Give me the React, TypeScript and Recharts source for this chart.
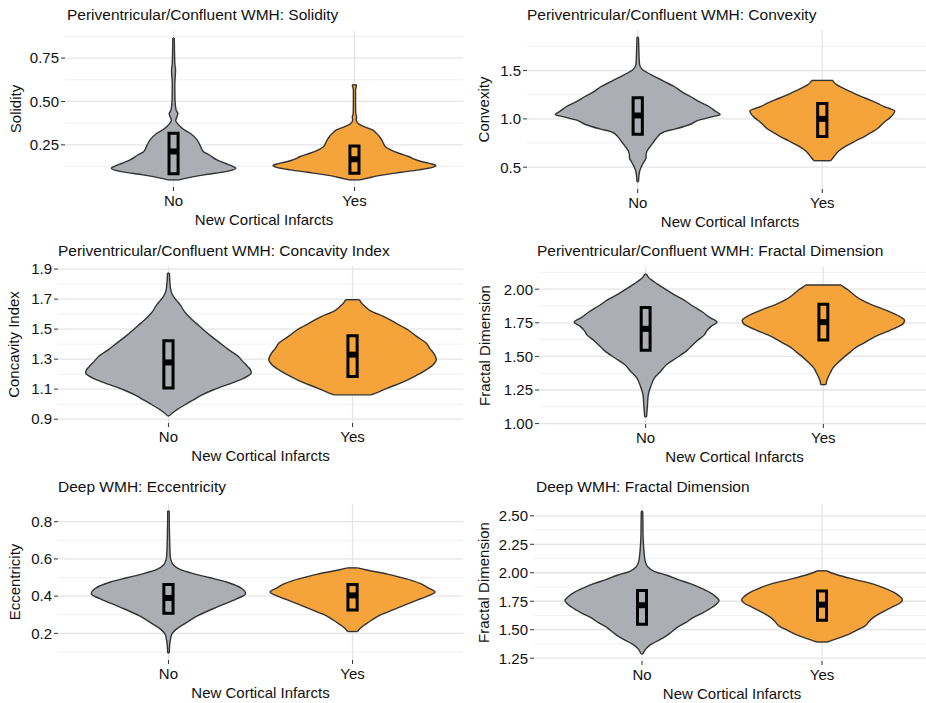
import { Area, CartesianGrid, ComposedChart, ReferenceArea, ReferenceLine, XAxis, YAxis } from 'recharts'

const GROUPS = ['No', 'Yes']
const X_TITLE = 'New Cortical Infarcts'

const COLORS = {
  no: '#abaeb3',
  yes: '#f4a43b',
  outline: '#333333',
  box: '#000000',
  gridMajor: '#e4e4e4',
  gridMinor: '#efefef',
  text: '#111111',
}

// violin outlines: [value, half width], bottom to top
const solidityNo = [
  [0.048, 0.03], [0.06, 0.08], [0.077, 0.17], [0.096, 0.29], [0.115, 0.344], [0.125, 0.33],
  [0.144, 0.285], [0.163, 0.24], [0.19, 0.2], [0.21, 0.166], [0.24, 0.15], [0.279, 0.13],
  [0.317, 0.092], [0.34, 0.055], [0.356, 0.037], [0.375, 0.02], [0.39, 0.012], [0.41, 0.018],
  [0.43, 0.024], [0.45, 0.014], [0.51, 0.008], [0.6, 0.007], [0.68, 0.011], [0.72, 0.007],
  [0.8, 0.005], [0.865, 0.004],
]
const solidityYes = [
  [0.048, 0.03], [0.065, 0.1], [0.077, 0.16], [0.092, 0.26], [0.106, 0.355], [0.12, 0.43],
  [0.131, 0.45], [0.142, 0.42], [0.154, 0.37], [0.168, 0.33], [0.183, 0.3], [0.2, 0.25],
  [0.221, 0.2], [0.24, 0.17], [0.26, 0.16], [0.28, 0.15], [0.298, 0.138], [0.318, 0.12],
  [0.337, 0.097], [0.352, 0.06], [0.365, 0.032], [0.38, 0.015], [0.395, 0.01], [0.41, 0.012],
  [0.43, 0.007], [0.5, 0.006], [0.567, 0.006], [0.585, 0.01], [0.596, 0.012],
]
const convexityNo = [
  [0.349, 0.004], [0.4, 0.006], [0.454, 0.01], [0.49, 0.016], [0.525, 0.025], [0.56, 0.035],
  [0.595, 0.045], [0.62, 0.045], [0.665, 0.05], [0.72, 0.07], [0.771, 0.09], [0.82, 0.11],
  [0.859, 0.135], [0.87, 0.15], [0.894, 0.2], [0.947, 0.29], [0.982, 0.324], [1.02, 0.4],
  [1.046, 0.447], [1.08, 0.42], [1.123, 0.39], [1.18, 0.33], [1.229, 0.288], [1.28, 0.24],
  [1.335, 0.198], [1.39, 0.14], [1.44, 0.09], [1.48, 0.05], [1.51, 0.025], [1.563, 0.01],
  [1.65, 0.007], [1.72, 0.006], [1.845, 0.004],
]
const convexityYes = [
  [0.567, 0.045], [0.59, 0.055], [0.613, 0.065], [0.65, 0.08], [0.683, 0.1], [0.73, 0.14],
  [0.771, 0.18], [0.82, 0.23], [0.859, 0.265], [0.9, 0.3], [0.947, 0.325], [0.98, 0.345],
  [1.018, 0.37], [1.05, 0.385], [1.081, 0.393], [1.11, 0.36], [1.123, 0.34], [1.16, 0.3],
  [1.194, 0.26], [1.24, 0.2], [1.282, 0.153], [1.32, 0.11], [1.352, 0.08], [1.375, 0.065],
  [1.398, 0.058],
]
const concavityNo = [
  [0.922, 0.005], [0.94, 0.02], [0.962, 0.045], [1.0, 0.095], [1.029, 0.136], [1.06, 0.18],
  [1.096, 0.245], [1.13, 0.32], [1.162, 0.39], [1.19, 0.435], [1.207, 0.45], [1.23, 0.445],
  [1.251, 0.43], [1.29, 0.4], [1.318, 0.38], [1.36, 0.33], [1.407, 0.28], [1.45, 0.235],
  [1.496, 0.19], [1.54, 0.15], [1.584, 0.11], [1.62, 0.085], [1.662, 0.064], [1.69, 0.045],
  [1.718, 0.027], [1.75, 0.015], [1.784, 0.01], [1.83, 0.007], [1.873, 0.005],
]
const concavityYes = [
  [1.062, 0.1], [1.08, 0.14], [1.107, 0.19], [1.135, 0.25], [1.162, 0.3], [1.2, 0.36],
  [1.229, 0.4], [1.26, 0.435], [1.296, 0.455], [1.34, 0.44], [1.37, 0.42], [1.407, 0.4],
  [1.45, 0.35], [1.496, 0.3], [1.54, 0.235], [1.584, 0.17], [1.62, 0.1], [1.651, 0.068],
  [1.675, 0.048], [1.696, 0.038],
]
const fractalPvNo = [
  [1.05, 0.005], [1.13, 0.01], [1.215, 0.015], [1.28, 0.03], [1.34, 0.05], [1.39, 0.085],
  [1.441, 0.12], [1.49, 0.175], [1.541, 0.23], [1.58, 0.26], [1.617, 0.29], [1.66, 0.33],
  [1.692, 0.345], [1.725, 0.37], [1.755, 0.402], [1.79, 0.36], [1.83, 0.32], [1.875, 0.265],
  [1.918, 0.217], [1.96, 0.16], [2.006, 0.104], [2.04, 0.065], [2.069, 0.033], [2.09, 0.015],
  [2.112, 0.005],
]
const fractalPvYes = [
  [1.29, 0.015], [1.315, 0.018], [1.34, 0.025], [1.38, 0.04], [1.416, 0.055], [1.45, 0.08],
  [1.491, 0.113], [1.53, 0.15], [1.567, 0.184], [1.6, 0.23], [1.642, 0.283], [1.68, 0.35],
  [1.717, 0.415], [1.745, 0.45], [1.768, 0.457], [1.793, 0.434], [1.825, 0.385], [1.855, 0.33],
  [1.885, 0.27], [1.918, 0.217], [1.955, 0.175], [1.994, 0.14], [2.015, 0.115], [2.031, 0.1],
]
const eccentricityNo = [
  [0.095, 0.004], [0.15, 0.008], [0.195, 0.018], [0.22, 0.04], [0.25, 0.085], [0.295, 0.16],
  [0.34, 0.26], [0.385, 0.37], [0.413, 0.419], [0.44, 0.4], [0.476, 0.315], [0.5, 0.22],
  [0.521, 0.135], [0.545, 0.06], [0.567, 0.027], [0.59, 0.015], [0.612, 0.01], [0.721, 0.006],
  [0.857, 0.004],
]
const eccentricityYes = [
  [0.21, 0.027], [0.23, 0.045], [0.25, 0.072], [0.272, 0.105], [0.295, 0.144], [0.318, 0.2],
  [0.34, 0.252], [0.363, 0.31], [0.386, 0.37], [0.405, 0.42], [0.422, 0.448], [0.445, 0.41],
  [0.467, 0.37], [0.485, 0.32], [0.503, 0.252], [0.518, 0.19], [0.531, 0.126], [0.542, 0.07],
  [0.552, 0.027],
]
const fractalDeepNo = [
  [1.288, 0.006], [1.33, 0.02], [1.371, 0.05], [1.43, 0.12], [1.475, 0.16], [1.519, 0.194],
  [1.56, 0.24], [1.608, 0.286], [1.65, 0.34], [1.697, 0.39], [1.756, 0.428], [1.79, 0.41],
  [1.83, 0.374], [1.87, 0.32], [1.904, 0.268], [1.94, 0.2], [1.978, 0.138], [2.01, 0.07],
  [2.052, 0.032], [2.1, 0.018], [2.141, 0.014], [2.23, 0.009], [2.319, 0.006], [2.43, 0.005],
  [2.541, 0.004],
]
const fractalDeepYes = [
  [1.392, 0.028], [1.42, 0.08], [1.46, 0.148], [1.5, 0.2], [1.534, 0.24], [1.57, 0.26],
  [1.608, 0.286], [1.65, 0.33], [1.697, 0.387], [1.73, 0.43], [1.762, 0.447], [1.795, 0.43],
  [1.83, 0.397], [1.87, 0.34], [1.904, 0.277], [1.94, 0.185], [1.978, 0.092], [2.0, 0.05],
  [2.017, 0.028],
]

// boxplots: [q1, median, q3]
const solidityBox = [[0.083, 0.212, 0.317], [0.087, 0.167, 0.244]]
const convexityBox = [[0.842, 1.035, 1.218], [0.817, 1.0, 1.158]]
const concavityBox = [[1.107, 1.278, 1.422], [1.184, 1.33, 1.456]]
const fractalPvBox = [[1.546, 1.705, 1.863], [1.622, 1.755, 1.888]]
const eccentricityBox = [[0.308, 0.39, 0.462], [0.326, 0.404, 0.462]]
const fractalDeepBox = [[1.549, 1.715, 1.845], [1.584, 1.72, 1.839]]

// y axis breaks
const solidityTicks = [0.25, 0.5, 0.75]
const solidityMinor = [0.125, 0.375, 0.625, 0.875]
const convexityTicks = [0.5, 1.0, 1.5]
const convexityMinor = [0.75, 1.25, 1.75]
const concavityTicks = [0.9, 1.1, 1.3, 1.5, 1.7, 1.9]
const concavityMinor = [1.0, 1.2, 1.4, 1.6, 1.8]
const fractalPvTicks = [1.0, 1.25, 1.5, 1.75, 2.0]
const fractalPvMinor = [1.125, 1.375, 1.625, 1.875, 2.125]
const eccentricityTicks = [0.2, 0.4, 0.6, 0.8]
const eccentricityMinor = [0.1, 0.3, 0.5, 0.7]
const fractalDeepTicks = [1.25, 1.5, 1.75, 2.0, 2.25, 2.5]
const fractalDeepMinor = [1.375, 1.625, 1.875, 2.125, 2.375]

const FONT = '"Liberation Sans", Arial, Helvetica, sans-serif'
const BOX_HALF = 0.025
const TOP_PAD = 10
const X_AXIS_H = 44

const PANELS = [
  {
    title: 'Periventricular/Confluent WMH: Solidity', yTitle: 'Solidity',
    violins: [solidityNo, solidityYes], boxes: solidityBox, ticks: solidityTicks, minor: solidityMinor, digits: 2,
    left: 0, plotTop: 31, plotH: 156, axisW: 65, width: 463, yTitleX: 16, titleX: 67, titleY: 20,
  },
  {
    title: 'Periventricular/Confluent WMH: Convexity', yTitle: 'Convexity',
    violins: [convexityNo, convexityYes], boxes: convexityBox, ticks: convexityTicks, minor: convexityMinor, digits: 1,
    left: 463, plotTop: 30, plotH: 159, axisW: 64, width: 470, yTitleX: 21, titleX: 527, titleY: 20,
  },
  {
    title: 'Periventricular/Confluent WMH: Concavity Index', yTitle: 'Concavity Index',
    violins: [concavityNo, concavityYes], boxes: concavityBox, ticks: concavityTicks, minor: concavityMinor, digits: 1,
    left: 0, plotTop: 266, plotH: 157, axisW: 58, width: 463, yTitleX: 14, titleX: 58, titleY: 256,
  },
  {
    title: 'Periventricular/Confluent WMH: Fractal Dimension', yTitle: 'Fractal Dimension',
    violins: [fractalPvNo, fractalPvYes], boxes: fractalPvBox, ticks: fractalPvTicks, minor: fractalPvMinor, digits: 2,
    left: 463, plotTop: 267, plotH: 157, axisW: 76, width: 467, yTitleX: 22, titleX: 537, titleY: 256,
  },
  {
    title: 'Deep WMH: Eccentricity', yTitle: 'Eccentricity',
    violins: [eccentricityNo, eccentricityYes], boxes: eccentricityBox, ticks: eccentricityTicks, minor: eccentricityMinor, digits: 1,
    left: 0, plotTop: 504, plotH: 156, axisW: 58, width: 463, yTitleX: 15, titleX: 58, titleY: 492,
  },
  {
    title: 'Deep WMH: Fractal Dimension', yTitle: 'Fractal Dimension',
    violins: [fractalDeepNo, fractalDeepYes], boxes: fractalDeepBox, ticks: fractalDeepTicks, minor: fractalDeepMinor, digits: 2,
    left: 463, plotTop: 504, plotH: 157, axisW: 71, width: 467, yTitleX: 21, titleX: 536, titleY: 492,
  },
]

type Panel = (typeof PANELS)[number]

function ViolinPanel({ p }: { p: Panel }) {
  const [noPts, yesPts] = p.violins
  const ys = Array.from(new Set([...noPts, ...yesPts].map((d) => d[0]))).sort((a, b) => a - b)
  // a row outside a violin gets [null, null] so both edges break there
  const rows = ys.map((y) => {
    const n = noPts.find((d) => d[0] === y)
    const s = yesPts.find((d) => d[0] === y)
    return {
      y,
      No: n ? [1 - n[1], 1 + n[1]] : [null, null],
      Yes: s ? [2 - s[1], 2 + s[1]] : [null, null],
    }
  })
  // ggplot default 5% expansion of the continuous axis
  const span = ys[ys.length - 1] - ys[0]
  const domain = [ys[0] - span * 0.05, ys[ys.length - 1] + span * 0.05]

  return (
    <div style={{ position: 'absolute', left: p.left, top: p.plotTop - TOP_PAD }}>
      <ComposedChart
        layout="vertical"
        width={p.width}
        height={p.plotH + TOP_PAD + X_AXIS_H}
        data={rows}
        margin={{ top: TOP_PAD, right: 0, bottom: 0, left: 0 }}
      >
        <CartesianGrid vertical={false} horizontalValues={p.minor} stroke={COLORS.gridMinor} strokeWidth={1} />
        <CartesianGrid horizontalValues={p.ticks} verticalValues={[1, 2]} stroke={COLORS.gridMajor} strokeWidth={1.3} />
        <XAxis
          type="number"
          domain={[0.4, 2.6]}
          ticks={[1, 2]}
          interval={0}
          tickFormatter={(v: number) => GROUPS[v - 1]}
          axisLine={false}
          tickSize={4}
          tickMargin={4}
          tickLine={{ stroke: COLORS.outline }}
          tick={{ fill: COLORS.text, fontSize: 15 }}
          height={X_AXIS_H}
          label={{ value: X_TITLE, position: 'insideBottom', offset: 6, fill: COLORS.text, fontSize: 15 }}
        />
        <YAxis
          type="number"
          dataKey="y"
          reversed
          domain={domain}
          ticks={p.ticks}
          interval={0}
          allowDataOverflow
          tickFormatter={(v: number) => v.toFixed(p.digits)}
          axisLine={false}
          tickSize={4}
          tickMargin={2}
          tickLine={{ stroke: COLORS.outline }}
          tick={{ fill: COLORS.text, fontSize: 15 }}
          width={p.axisW}
          label={{
            value: p.yTitle,
            angle: -90,
            position: 'insideLeft',
            offset: p.yTitleX,
            fill: COLORS.text,
            fontSize: 15,
            style: { textAnchor: 'middle' },
          }}
        />
        {GROUPS.map((g) => (
          <Area
            key={g}
            dataKey={g}
            type="monotone"
            connectNulls
            fill={g === 'No' ? COLORS.no : COLORS.yes}
            fillOpacity={1}
            stroke={COLORS.outline}
            strokeWidth={1.4}
            dot={false}
            activeDot={false}
            isAnimationActive={false}
          />
        ))}
        {/* trimmed violin ends */}
        {p.violins.map((pts, i) =>
          [pts[0], pts[pts.length - 1]].map((d, j) => (
            <ReferenceLine
              key={`cap-${i}-${j}`}
              segment={[{ x: i + 1 - d[1], y: d[0] }, { x: i + 1 + d[1], y: d[0] }]}
              stroke={COLORS.outline}
              strokeWidth={1.4}
            />
          )),
        )}
        {p.boxes.map((b, i) => (
          <ReferenceArea
            key={`box-${i}`}
            x1={i + 1 - BOX_HALF}
            x2={i + 1 + BOX_HALF}
            y1={b[0]}
            y2={b[2]}
            fill="none"
            fillOpacity={0}
            stroke={COLORS.box}
            strokeWidth={3}
          />
        ))}
        {p.boxes.map((b, i) => (
          <ReferenceLine
            key={`med-${i}`}
            segment={[{ x: i + 1 - BOX_HALF, y: b[1] }, { x: i + 1 + BOX_HALF, y: b[1] }]}
            stroke={COLORS.box}
            strokeWidth={6}
          />
        ))}
      </ComposedChart>
    </div>
  )
}

export default function App() {
  return (
    <div
      style={{
        position: 'absolute',
        left: 0,
        top: 0,
        width: 926,
        height: 703,
        overflow: 'hidden',
        background: '#fff',
        fontFamily: FONT,
      }}
    >
      {PANELS.map((p) => (
        <div
          key={p.title}
          style={{
            position: 'absolute',
            left: p.titleX,
            top: p.titleY - 13,
            fontSize: 15.5,
            lineHeight: '15px',
            color: COLORS.text,
            whiteSpace: 'nowrap',
          }}
        >
          {p.title}
        </div>
      ))}
      {PANELS.map((p) => (
        <ViolinPanel key={p.title} p={p} />
      ))}
    </div>
  )
}
